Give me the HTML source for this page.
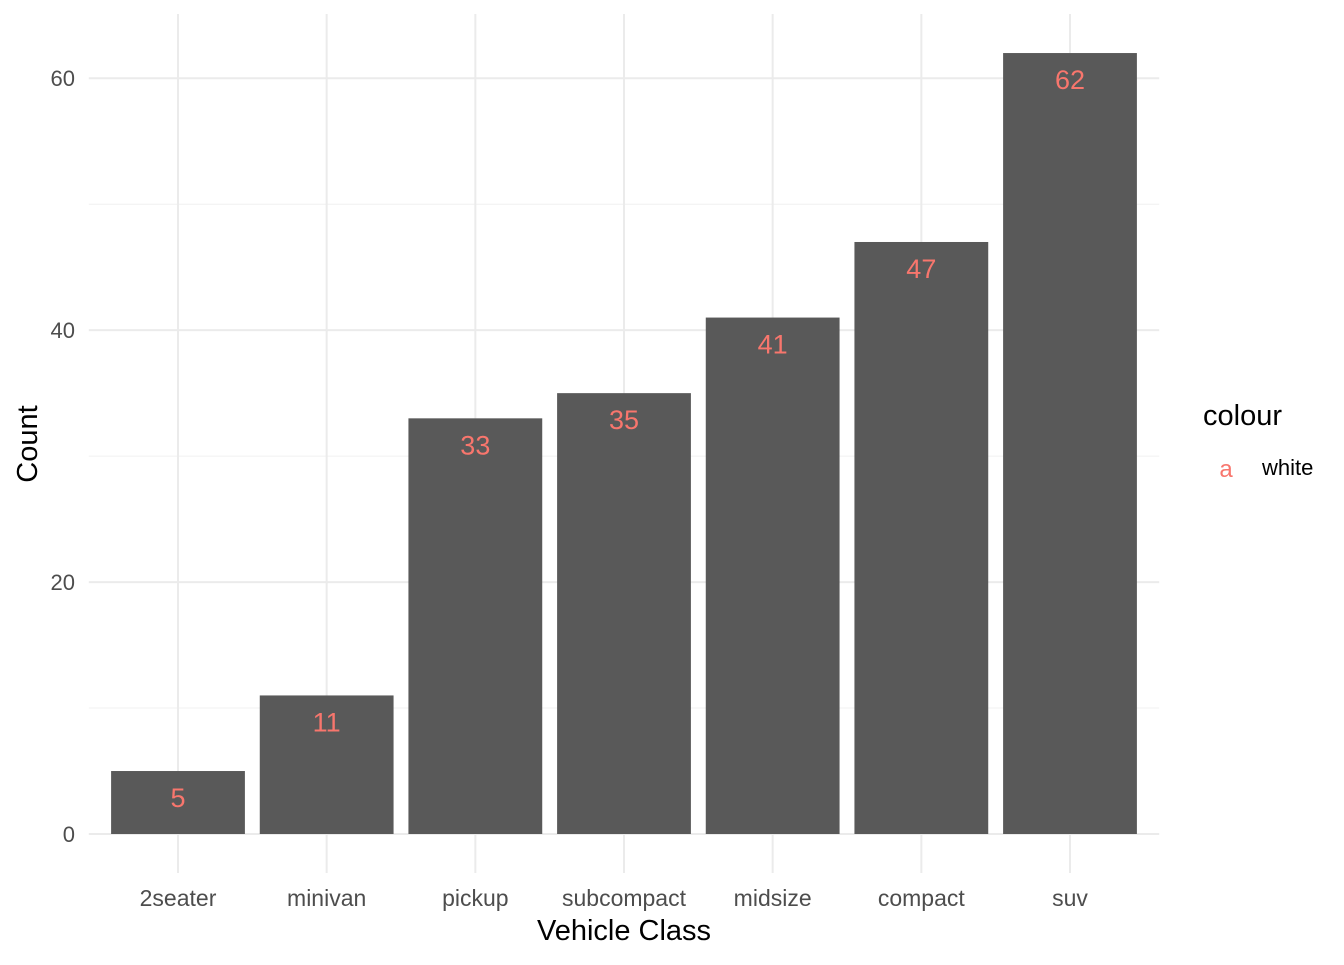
<!DOCTYPE html>
<html><head><meta charset="utf-8"><style>
body{margin:0;background:#fff;}
svg text{font-family:"Liberation Sans",Arial,sans-serif;}
</style></head><body>
<svg id="chart" width="1344" height="960" xmlns="http://www.w3.org/2000/svg">
<g id="grid"></g><g id="bars"></g><g id="labels"></g><g id="axes"></g>
<text x="624" y="940" text-anchor="middle" font-size="29" fill="#000">Vehicle Class</text>
<text transform="translate(37,444) rotate(-90)" text-anchor="middle" font-size="29" fill="#000">Count</text>
<g>
<text x="1203" y="425" font-size="29" fill="#000">colour</text>
<text x="1226" y="477" text-anchor="middle" font-size="24" fill="#F8766D">a</text>
<text x="1262" y="475" font-size="22" fill="#000">white</text>
</g>
</svg>
<script>
const categories=["2seater","minivan","pickup","subcompact","midsize","compact","suv"];
const counts=[5,11,33,35,41,47,62];
const yTicks=[0,20,40,60];
const yMinor=[10,30,50];
const ns="http://www.w3.org/2000/svg";
const L=88.8,R=1159.2;
const yMax=Math.max(...counts)*1.05;
const yPx=(834-14)/yMax;
function y(v){return 834-v*yPx;}
const step=(R-L)/(categories.length+0.2);
function x(i){return L+step*(0.6+i);}
function mk(tag,attrs,parent,text){const e=document.createElementNS(ns,tag);for(const k in attrs)e.setAttribute(k,attrs[k]);if(text!==undefined)e.textContent=text;document.getElementById(parent).appendChild(e);return e;}
yMinor.forEach(v=>{const e=mk('line',{x1:L,x2:R,y1:y(v),y2:y(v),stroke:'#f0f0f0','stroke-width':1},'grid');

});
yTicks.forEach(v=>{const e=mk('line',{x1:L,x2:R,y1:y(v),y2:y(v),stroke:'#ebebeb','stroke-width':2},'grid');


const t=mk('text',{x:75,y:y(v)+8,'text-anchor':'end','font-size':22,fill:'#4d4d4d'},'axes',v);

});
categories.forEach((c,i)=>{const e=mk('line',{x1:x(i),x2:x(i),y1:14,y2:873,stroke:'#ebebeb','stroke-width':2},'grid');


const t=mk('text',{x:x(i),y:906,'text-anchor':'middle','font-size':23,fill:'#4d4d4d'},'axes',c);


const w=step*0.9;
const b=mk('rect',{x:x(i)-w/2,y:y(counts[i]),width:w,height:y(0)-y(counts[i]),fill:'#595959'},'bars');


const l=mk('text',{x:x(i),y:y(counts[i])+36,'text-anchor':'middle','font-size':27,fill:'#F8766D'},'labels',counts[i]);

});
</script>
</body></html>
